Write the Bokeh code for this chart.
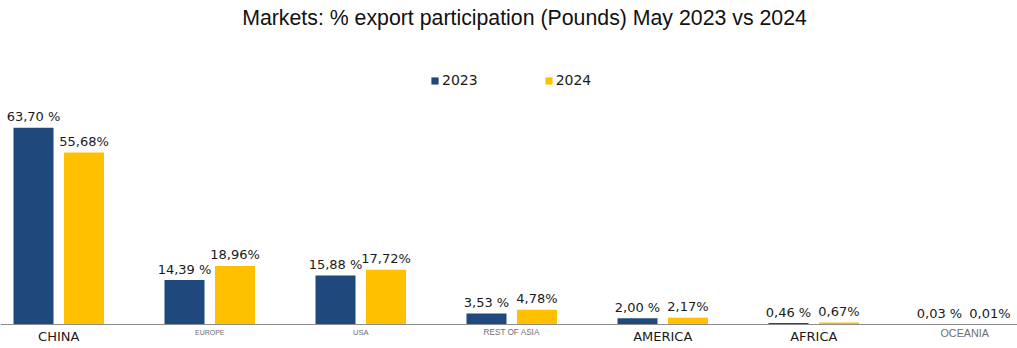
from bokeh.plotting import figure
from bokeh.models import ColumnDataSource, Range1d, Span, Label, Legend, LegendItem
from bokeh.core.properties import value
from bokeh.embed import file_html
from bokeh.resources import INLINE

# ---- data ----
categories = ["CHINA", "EUROPE", "USA", "REST OF ASIA", "AMERICA", "AFRICA", "OCEANIA"]
share_2023 = [63.70, 14.39, 15.88, 3.53, 2.00, 0.46, 0.03]
share_2024 = [55.68, 18.96, 17.72, 4.78, 2.17, 0.67, 0.01]
series_names = ["2023", "2024"]
title_text = "Markets: % export participation (Pounds) May 2023 vs 2024"

# ---- styles ----
W, H = 1017, 348
BLUE = "#1F497D"
GOLD = "#FFC000"
CAT_PX = 151.0          # pixels per category
FIRST_CENTER_PX = 58.25  # pixel x of first category centre
BASE_PX = 324.0          # pixel y (from top) of baseline
PX_PER_UNIT = 3.09       # pixels per percentage point
DODGE = 25.25 / CAT_PX
BAR_W = 40.0 / CAT_PX

# per-category label style (size, colour, font, offset below axis)
big = ("13px", "#1a1a1a", "DejaVu Sans", 12)
small = lambda s: (s, "#6e6e6e", "Liberation Sans", 8)
label_styles = [big, small("7px"), small("7.6px"), small("8.2px"), big, big, small("10.8px")]

x_start = -FIRST_CENTER_PX / CAT_PX
x_end = x_start + W / CAT_PX
y_start = -(H - BASE_PX) / PX_PER_UNIT
y_end = BASE_PX / PX_PER_UNIT

idx = list(range(len(categories)))
src = ColumnDataSource(dict(
    x23=[i - DODGE for i in idx],
    x24=[i + DODGE for i in idx],
    v23=share_2023,
    v24=share_2024,
    t23=[f"{v:.2f} %".replace(".", ",") for v in share_2023],
    t24=[f"{v:.2f}%".replace(".", ",") for v in share_2024],
))

p = figure(width=W, height=H, output_backend="svg", toolbar_location=None,
           x_range=Range1d(x_start, x_end), y_range=Range1d(y_start, y_end),
           min_border=0, min_border_left=0, min_border_right=0,
           min_border_top=0, min_border_bottom=0,
           x_axis_type=None, y_axis_type=None)
p.outline_line_color = None
p.grid.visible = False
p.background_fill_color = "white"
p.border_fill_color = "white"

r23 = p.vbar(x="x23", top="v23", width=BAR_W, bottom=0, source=src,
             fill_color=BLUE, line_color=None)
r24 = p.vbar(x="x24", top="v24", width=BAR_W, bottom=0, source=src,
             fill_color=GOLD, line_color=None)

p.add_layout(Span(location=0, dimension="width", line_color="#8c8c8c", line_width=1))

val_font = value("DejaVu Sans")
p.text(x="x23", y="v23", text="t23", source=src, text_align="center",
       text_baseline="alphabetic", y_offset=-11, text_font=val_font,
       text_font_size="13px", text_color="#1a1a1a")
p.text(x="x24", y="v24", text="t24", source=src, text_align="center",
       text_baseline="alphabetic", y_offset=-11, text_font=val_font,
       text_font_size="13px", text_color="#1a1a1a")

# category labels
for i, (cat, st) in enumerate(zip(categories, label_styles)):
    size, color, font, off = st
    p.text(x=[i], y=[0], text=[cat], text_align="center", text_baseline="alphabetic",
           y_offset=off, text_font=value(font), text_font_size=size, text_color=color)

p.add_layout(Label(x=524, y=H - 17, x_units="screen", y_units="screen",
                   text=title_text, text_align="center", text_baseline="middle",
                   text_font="Liberation Sans", text_font_size="21.3px",
                   text_color="#111111"))

legend = Legend(items=[LegendItem(label=series_names[0], renderers=[r23]),
                       LegendItem(label=series_names[1], renderers=[r24])],
                orientation="horizontal", location=(430, H - 88),
                glyph_width=9, glyph_height=9, label_standoff=3, spacing=66,
                padding=0, margin=0, border_line_color=None,
                background_fill_alpha=0, label_text_font="DejaVu Sans",
                label_text_font_size="14px", label_height=9,
                label_text_color="#1a1a1a")
p.add_layout(legend)

open("out.html", "w").write(file_html(p, INLINE))
